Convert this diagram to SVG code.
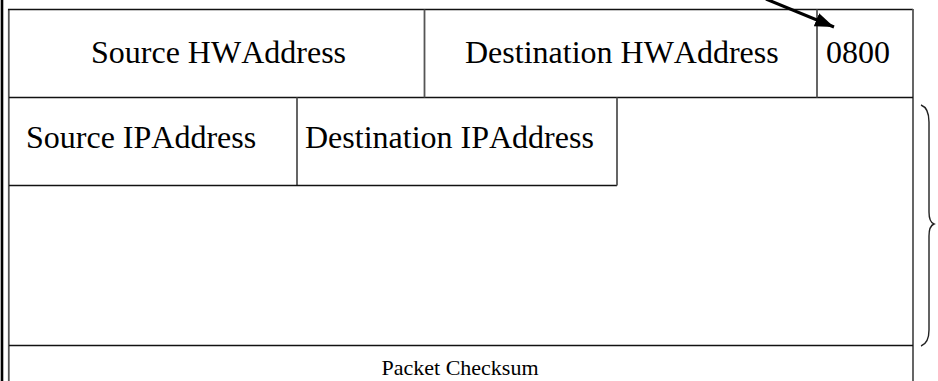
<svg xmlns="http://www.w3.org/2000/svg" width="938" height="381" viewBox="0 0 938 381">
  <style>
    .hline { stroke: #111; stroke-width: 1.3; fill: none; }
    .vline { stroke: #555; stroke-width: 1.8; fill: none; }
    .lbl { font-family: "Liberation Serif", "Times New Roman", serif; font-size: 32px; font-kerning: none; fill: #000; }
    .small { font-family: "Liberation Serif", "Times New Roman", serif; font-size: 22px; font-kerning: none; fill: #000; }
  </style>
  <defs>
    <marker id="arrowhead" markerWidth="19" markerHeight="14" refX="19" refY="7" orient="auto" markerUnits="userSpaceOnUse">
      <path d="M0,0 L19,7 L0,14 Z" fill="#000"/>
    </marker>
  </defs>
  <rect width="938" height="381" fill="#fff"/>

  <!-- page edge bar on the left -->
  <line x1="2" y1="0" x2="2" y2="381" stroke="#000" stroke-width="2.6"/>

  <!-- outer frame -->
  <g id="frame">
    <line class="vline" x1="8.8" y1="9" x2="8.8" y2="381"/>
    <line class="hline" x1="8" y1="9.5" x2="913" y2="9.5"/>
    <line class="vline" x1="913" y1="9" x2="913" y2="381"/>
    <line class="hline" x1="9" y1="97.5" x2="913" y2="97.5"/>
    <line class="hline" x1="9" y1="345.5" x2="913" y2="345.5"/>
  </g>

  <!-- hardware header row -->
  <g id="src-hw">
    <text class="lbl" x="91" y="63">Source HWAddress</text>
  </g>
  <g id="dst-hw">
    <line class="vline" x1="424.5" y1="9.5" x2="424.5" y2="97.5"/>
    <text class="lbl" x="465" y="63">Destination HWAddress</text>
  </g>
  <g id="ethertype">
    <line class="vline" x1="817" y1="9.5" x2="817" y2="97.5"/>
    <text class="lbl" x="826" y="63">0800</text>
  </g>

  <!-- IP address row -->
  <g id="src-ip">
    <line class="vline" x1="297" y1="97.5" x2="297" y2="185.5"/>
    <text class="lbl" x="26" y="148">Source IPAddress</text>
  </g>
  <g id="dst-ip">
    <line class="hline" x1="9" y1="185.5" x2="617" y2="185.5"/>
    <line class="vline" x1="617" y1="97.5" x2="617" y2="185.5"/>
    <text class="lbl" x="305" y="148">Destination IPAddress</text>
  </g>

  <!-- checksum row -->
  <g id="checksum">
    <text class="small" x="460" y="375" text-anchor="middle">Packet Checksum</text>
  </g>

  <!-- connectors -->
  <g id="connectors">
    <line x1="766" y1="-1" x2="834" y2="27" stroke="#000" stroke-width="3" marker-end="url(#arrowhead)"/>
    <path d="M921,105 Q929,108 929,122 L929,212 Q929,222 934,224 Q929,226 929,236 L929,330 Q929,343 921,346" fill="none" stroke="#222" stroke-width="1.4"/>
  </g>
</svg>
